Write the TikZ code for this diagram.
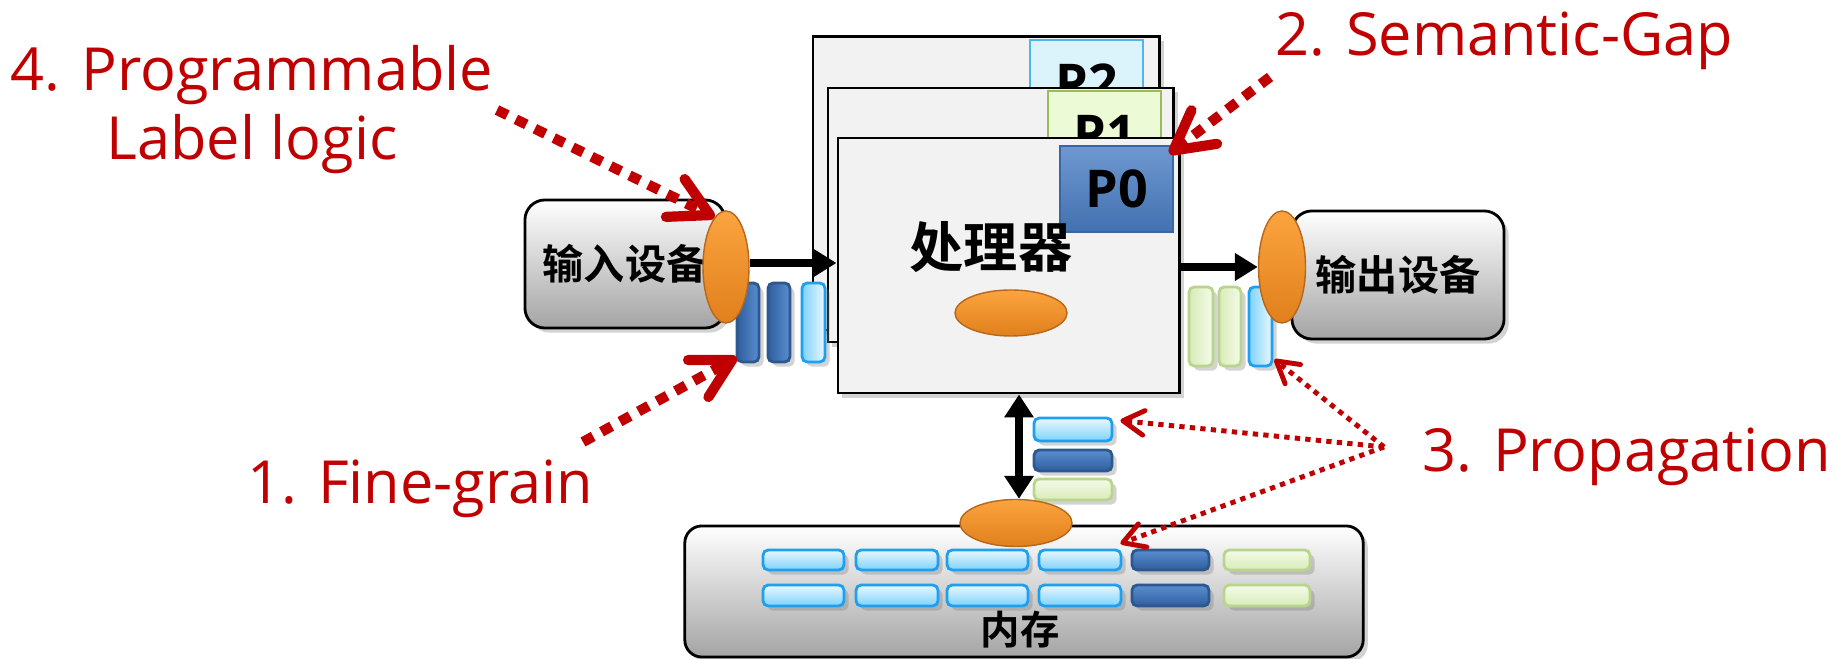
\documentclass[tikz,border=0pt]{standalone}
\usepackage{fontspec}
\newfontfamily\labf{Open Sans}
\newfontfamily\cjkb{Noto Sans CJK SC Bold}
\usetikzlibrary{arrows.meta,shadows,calc,shapes.geometric}
\definecolor{rd}{HTML}{C00000}
\definecolor{orgL}{HTML}{FBA43F}
\definecolor{orgD}{HTML}{E0801C}
\definecolor{orgB}{HTML}{B8661A}
\definecolor{procF}{HTML}{F2F2F2}
\definecolor{lbF1}{HTML}{EAF8FF}
\definecolor{lbF2}{HTML}{7ED2FB}
\definecolor{lbB}{HTML}{1E9FEF}
\definecolor{dbF1}{HTML}{5A8ED0}
\definecolor{dbF2}{HTML}{2F5E9E}
\definecolor{dbB}{HTML}{2C578F}
\definecolor{gbF1}{HTML}{F4FBE8}
\definecolor{gbF2}{HTML}{D8EBB8}
\definecolor{gbB}{HTML}{B9D58C}
\definecolor{p0F}{HTML}{4A7EC4}
\definecolor{p0B}{HTML}{3A66A8}
\definecolor{p2F}{HTML}{DBF4FC}
\definecolor{p2B}{HTML}{4DB8E8}
\definecolor{p1F}{HTML}{EDFAD6}
\definecolor{p1B}{HTML}{9BBB59}
\definecolor{devD}{HTML}{A4A4A4}
\tikzset{
  shd/.style={drop shadow={opacity=0.35,shadow xshift=1.3pt,shadow yshift=-1.3pt}},
  dev/.style={draw=black, line width=0.8pt, rounded corners=0.2cm, top color=white, bottom color=devD, inner sep=0, shd},
  proc/.style={draw=black, line width=0.8pt, fill=procF, inner sep=0, shd},
  oval/.style={ellipse, draw=orgB, line width=0.4pt, top color=orgL, bottom color=orgD, inner sep=0},
  bar/.style={rectangle, line width=0.8pt, rounded corners=1.5pt, inner sep=0, shd},
  vlb/.style={bar, draw=lbB, left color=lbF2, right color=lbF1},
  vdb/.style={bar, draw=dbB, left color=dbF2, right color=dbF1},
  vgb/.style={bar, draw=gbB, left color=gbF2, right color=gbF1},
  hlb/.style={bar, draw=lbB, top color=lbF1, bottom color=lbF2},
  hdb/.style={bar, draw=dbB, top color=dbF1, bottom color=dbF2},
  hgb/.style={bar, draw=gbB, top color=gbF1, bottom color=gbF2},
  tag/.style={rectangle, inner sep=0, minimum width=1.13cm, minimum height=0.86cm, line width=0.8pt,
     font=\labf\bfseries\fontsize{14.8pt}{16pt}\selectfont},
  cjkt/.style={font=\cjkb\fontsize{#1}{#1}\selectfont, inner sep=0},
  lab/.style={text=rd, inner sep=0, font=\labf\fontsize{16.9pt}{19.6pt}\selectfont},
  blk/.style={line width=2.2pt, -{Triangle[length=6.5pt,width=7.5pt]}},
  dbl/.style={line width=2.2pt, {Triangle[length=6.5pt,width=8pt]}-{Triangle[length=6.5pt,width=8pt]}},
  bigarr/.style={draw=rd, line width=2.9pt, dash pattern=on 3.3pt off 2.7pt,
     -{Straight Barb[length=11pt,width=12pt,round]}},
  smallarr/.style={draw=rd, line width=1.4pt, dash pattern=on 1.5pt off 1.5pt,
     -{Straight Barb[length=6pt,width=7pt,round]}}
}
\begin{document}
\begin{tikzpicture}[x=0.01cm,y=-0.01cm]
\useasboundingbox (0,0) rectangle (1836,659);

% processor stack
\node[proc, minimum width=3.46cm, minimum height=2.93cm] (p2box) at (986,183.5) {};
\node[tag, draw=p2B, fill=p2F] (p2tag) at (1086.5,83) {P2};
\node[proc, minimum width=3.45cm, minimum height=2.54cm] (p1box) at (1000.5,215) {};
\node[tag, draw=p1B, fill=p1F] (p1tag) at (1104.5,134) {P1};
\node[proc, minimum width=3.41cm, minimum height=2.55cm] (p0box) at (1008.5,265.5) {};
\node[tag, draw=p0B, top color=p0F!80!white, bottom color=p0F!90!black] (p0tag) at (1116.5,189) {P0};
\node[cjkt=15.4pt] (ptext) at (991,247) {处理器};
\node[oval, minimum width=1.12cm, minimum height=0.46cm] (pell) at (1011,313) {};

% input device
\node[dev, minimum width=2.00cm, minimum height=1.28cm] (indev) at (625,264) {};
\node[cjkt=11.7pt] (intext) at (625,264) {输入设备};
\node[vdb, minimum width=0.22cm, minimum height=0.79cm] (ib1) at (748,322.5) {};
\node[vdb, minimum width=0.22cm, minimum height=0.79cm] (ib2) at (779,322.5) {};
\node[vlb, minimum width=0.23cm, minimum height=0.79cm] (ib3) at (813.5,322.5) {};
\node[oval, minimum width=0.46cm, minimum height=1.12cm] (inell) at (726,267) {};

% output device
\node[vgb, minimum width=0.24cm, minimum height=0.79cm] (ob1) at (1201,326.5) {};
\node[vgb, minimum width=0.22cm, minimum height=0.79cm] (ob2) at (1230,326.5) {};
\node[vlb, minimum width=0.23cm, minimum height=0.79cm] (ob3) at (1260.5,326.5) {};
\node[dev, minimum width=2.12cm, minimum height=1.28cm] (outdev) at (1398,275) {};
\node[cjkt=11.7pt] (outtext) at (1398,275) {输出设备};
\node[oval, minimum width=0.47cm, minimum height=1.12cm] (outell) at (1282,267) {};

% stack between processor and memory
\node[hlb, minimum width=0.78cm, minimum height=0.23cm] (s1) at (1073,429.5) {};
\node[hdb, minimum width=0.78cm, minimum height=0.21cm] (s2) at (1073,460.5) {};
\node[hgb, minimum width=0.78cm, minimum height=0.21cm] (s3) at (1073,489.5) {};

% memory
\node[dev, rounded corners=0.17cm, minimum width=6.78cm, minimum height=1.31cm] (mem) at (1024,591.5) {};
\node[cjkt=11.2pt] (mtext) at (1020,630) {内存};
\foreach \r/\y/\h in {1/560/0.20,2/595.5/0.21}{
  \node[hlb, minimum width=0.81cm, minimum height=\h cm] (m\r1) at (803.5,\y) {};
  \node[hlb, minimum width=0.82cm, minimum height=\h cm] (m\r2) at (897,\y) {};
  \node[hlb, minimum width=0.81cm, minimum height=\h cm] (m\r3) at (987.5,\y) {};
  \node[hlb, minimum width=0.82cm, minimum height=\h cm] (m\r4) at (1080,\y) {};
  \node[hdb, minimum width=0.77cm, minimum height=\h cm] (m\r5) at (1170.5,\y) {};
  \node[hgb, minimum width=0.86cm, minimum height=\h cm] (m\r6) at (1267,\y) {};
}
\node[oval, minimum width=1.12cm, minimum height=0.47cm] (mell) at (1016,523) {};

% black connectors
\coordinate (inout) at ($(inell.east)+(0,-4)$);
\draw[blk] (inout) -- (inout -| p0box.west);
\draw[blk] (p0box.east |- outell.west) -- (outell.west);
\coordinate (memtop) at ($(mell.north)+(3,0)$);
\draw[dbl] (p0box.south -| memtop) -- (memtop);

% labels
\node[lab, anchor=base west] (l2) at (1275,56) {2. Semantic-Gap};
\node[lab, anchor=north, align=center] (l4) at (252,45) {4. Programmable\\Label logic};
\node[lab, anchor=base west] (l1) at (247,504) {1. Fine-grain};
\node[lab, anchor=base west] (l3) at (1422,472) {3. Propagation};

% red arrows
\coordinate (a4s) at (497,110);
\coordinate (a1s) at (583,442);
\coordinate (a2s) at (1270,77);
\coordinate (a3s) at (1384,447);
\draw[bigarr] (a4s) -- (inell.103);
\draw[bigarr] (a1s) -- ($(ib1.south west)+(1,-6)$);
\draw[bigarr] (a2s) -- ($(p0tag.north east)+(-5,9)$);
\draw[smallarr] (a3s) -- ($(ob3.south east)+(1,-8)$);
\draw[smallarr] (a3s) -- ($(s1.east)+(7,-9)$);
\draw[smallarr] (a3s) -- ($(m14.north east)+(-2,-5)$);
\end{tikzpicture}
\end{document}
